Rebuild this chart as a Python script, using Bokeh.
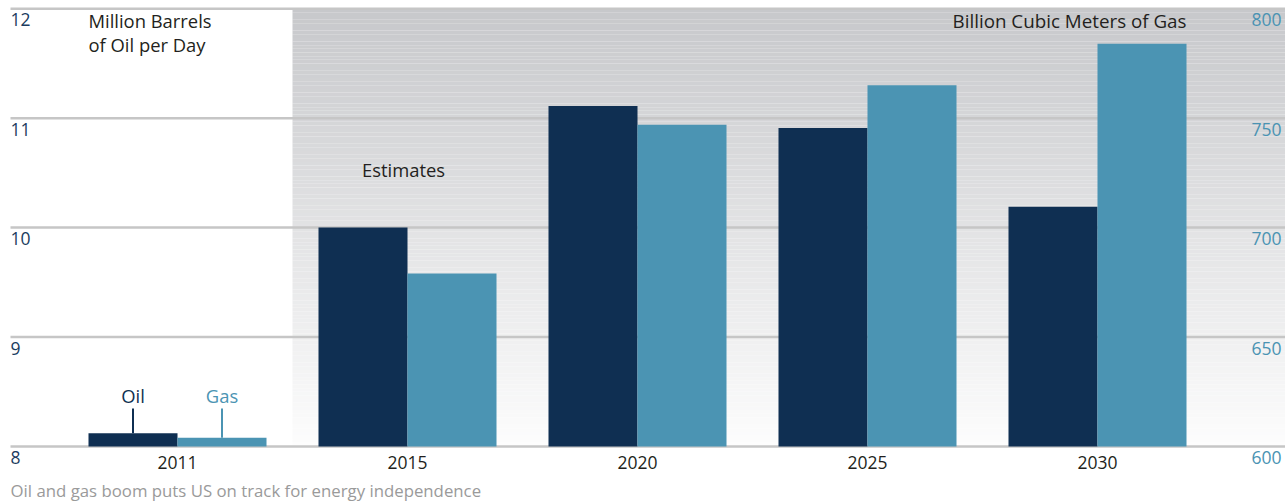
from bokeh.plotting import figure
from bokeh.models import Range1d, Label, ColumnDataSource
from bokeh.embed import file_html
from bokeh.resources import INLINE

# ---- data ----
years = ["2011", "2015", "2020", "2025", "2030"]
oil = [8.12, 10.0, 11.11, 10.91, 10.19]          # million barrels of oil per day
gas = [604, 679, 747, 765, 784]                  # billion cubic meters of gas
oil_ticks = [8, 9, 10, 11, 12]
gas_ticks = [600, 650, 700, 750, 800]

# ---- styles ----
OIL_C = "#0f2f52"
GAS_C = "#4b94b3"
FONT = "Open Sans"
NAVY_TXT = "#1b3c60"
BLUE_TXT = "#4a93b3"
DARK_TXT = "#231f20"

W, H = 1285, 501
# scale geometry (pixels) -> ranges
CAT0, CAT_STEP = 177.0, 230.0
Y8, PX_UNIT = 446.0, 109.45
x0 = -CAT0 / CAT_STEP
x1 = (W - CAT0) / CAT_STEP
y_lo = 8 - (H - Y8) / PX_UNIT
y_hi = 8 + Y8 / PX_UNIT
g_lo = 600 + (y_lo - 8) * 50
g_hi = 600 + (y_hi - 8) * 50
bw = 89 / CAT_STEP
xl = (10 - CAT0) / CAT_STEP   # left end of grid lines

p = figure(width=W, height=H, output_backend="svg", toolbar_location=None,
           x_range=Range1d(x0, x1), y_range=Range1d(y_lo, y_hi),
           x_axis_type=None, y_axis_type=None,
           min_border_left=0, min_border_right=0, min_border_top=0, min_border_bottom=0)
p.extra_y_ranges = {"gas": Range1d(g_lo, g_hi)}
p.outline_line_color = None
p.background_fill_color = "white"
p.border_fill_color = "white"

# gradient background for the estimates section
n = 120
top = (199, 200, 203)
bot = (253, 253, 253)
ys = [8 + 4.0 * i / n for i in range(n + 1)]
cols = []
for i in range(n):
    t = (i + 0.5) / n  # 0 bottom -> 1 top
    c = tuple(int(round(bot[k] + (top[k] - bot[k]) * t)) for k in range(3))
    cols.append("#%02x%02x%02x" % c)
gsrc = ColumnDataSource(dict(bottom=ys[:-1], top=ys[1:], color=cols))
gr = p.quad(left=0.5, right=x1 + 0.1, bottom="bottom", top="top", fill_color="color",
            line_color=None, source=gsrc)
gr.level = "image"

# grid lines
gl = p.segment(x0=[xl] * len(oil_ticks), y0=oil_ticks, x1=[x1 + 0.1] * len(oil_ticks),
               y1=oil_ticks, line_color="#c6c6c6", line_width=2.5)
gl.level = "underlay"

# bars
xs = list(range(len(years)))
p.vbar(x=[i - bw / 2 for i in xs], top=oil, bottom=8, width=bw, fill_color=OIL_C, line_color=None)
p.vbar(x=[i + bw / 2 for i in xs], top=gas, bottom=600, width=bw, fill_color=GAS_C,
       line_color=None, y_range_name="gas")

def lab(**kw):
    base = dict(text_font=FONT, text_font_size="18.4px", text_color=DARK_TXT)
    base.update(kw)
    p.add_layout(Label(**base))

# year labels
for i, yr in zip(xs, years):
    lab(x=i, y=8, text=yr, y_offset=-16, text_align="center", text_baseline="middle",
        text_font_size="17.5px")

# y tick labels (under each gridline)
for t in oil_ticks:
    lab(x=xl, y=t, text=str(t), y_offset=-11, text_align="left", text_baseline="middle",
        text_font_size="17.5px", text_color=NAVY_TXT)
for t in gas_ticks:
    lab(x=x1, y=t, text=str(t), x_offset=-4, y_offset=-11, y_range_name="gas",
        text_align="right", text_baseline="middle", text_font_size="17.5px", text_color=BLUE_TXT)

# unit titles
lab(x=-bw, y=12, text="Million Barrels", y_offset=-12, text_align="left", text_baseline="middle")
lab(x=-bw, y=12, text="of Oil per Day", y_offset=-36, text_align="left", text_baseline="middle")
lab(x=4 + bw, y=12, text="Billion Cubic Meters of Gas", y_offset=-12, text_align="right",
    text_baseline="middle", text_font_size="18.8px")

# Estimates
lab(x=1 - 0.017, y=10.53, text="Estimates", text_align="center", text_baseline="middle")

# Oil / Gas leaders on 2011 bars
p.segment(x0=[-bw / 2], y0=[oil[0]], x1=[-bw / 2], y1=[8.347], line_color=OIL_C, line_width=2)
p.segment(x0=[bw / 2], y0=[gas[0]], x1=[bw / 2], y1=[617.35], line_color=GAS_C,
          line_width=2, y_range_name="gas")
lab(x=-bw / 2, y=8.347, text="Oil", y_offset=13, text_align="center", text_baseline="middle",
    text_color=OIL_C)
lab(x=bw / 2, y=617.35, text="Gas", y_offset=13, y_range_name="gas", text_align="center",
    text_baseline="middle", text_color=GAS_C)

# caption
lab(x=xl, y=8, text="Oil and gas boom puts US on track for energy independence",
    y_offset=-44, text_align="left", text_baseline="middle", text_font_size="16.8px",
    text_color="#9a9a9a")

open("out.html", "w").write(file_html(p, INLINE))
